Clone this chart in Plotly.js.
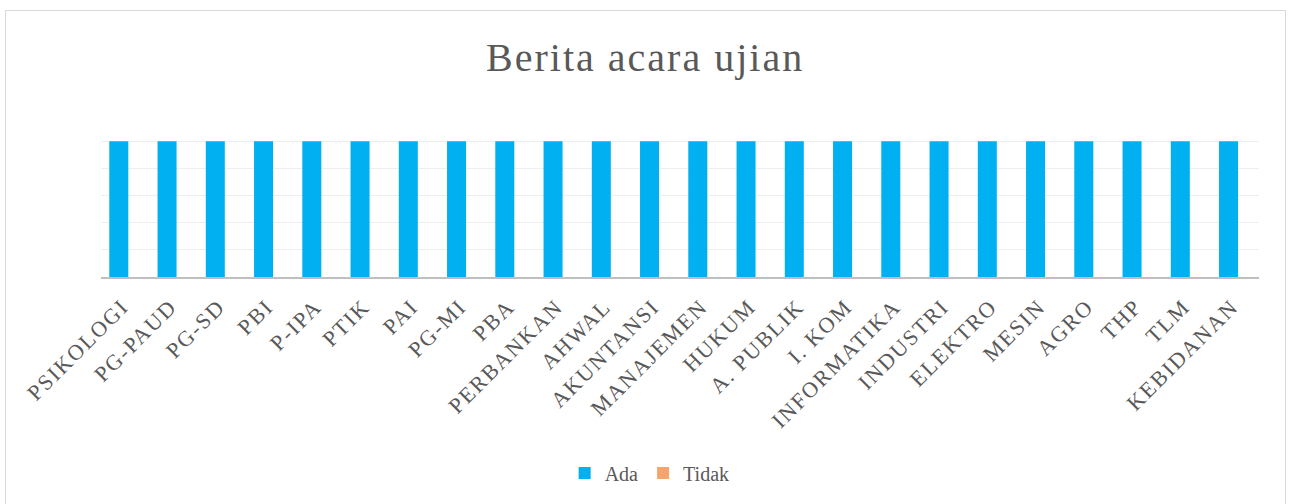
<!DOCTYPE html>
<html>
<head>
<meta charset="utf-8">
<script src="https://cdn.plot.ly/plotly-3.0.1.min.js"></script>
<style>
  html, body { margin: 0; padding: 0; background: #ffffff; }
  #wrap { position: relative; width: 1289px; height: 504px; overflow: hidden; }
  #chart { position: absolute; left: 0; top: 0; width: 1289px; height: 504px; }
  #frame { position: absolute; left: 5px; top: 10px; width: 1281px; height: 500px;
           border: 1.5px solid #d9d9d9; box-sizing: border-box; pointer-events: none; }
  #chart .gtitle { letter-spacing: 2px; }
  #chart .xtick text { letter-spacing: 1.8px; }
</style>
</head>
<body>
<div id="wrap">
  <div id="chart"></div>
  <div id="frame"></div>
</div>
<script>
const categories = ["PSIKOLOGI", "PG-PAUD", "PG-SD", "PBI", "P-IPA", "PTIK", "PAI", "PG-MI", "PBA",
  "PERBANKAN", "AHWAL", "AKUNTANSI", "MANAJEMEN", "HUKUM", "A. PUBLIK", "I. KOM", "INFORMATIKA",
  "INDUSTRI", "ELEKTRO", "MESIN", "AGRO", "THP", "TLM", "KEBIDANAN"];
const adaValues = [1, 1, 1, 1, 1, 1, 1, 1, 1, 1, 1, 1, 1, 1, 1, 1, 1, 1, 1, 1, 1, 1, 1, 1];
const tidakValues = [0, 0, 0, 0, 0, 0, 0, 0, 0, 0, 0, 0, 0, 0, 0, 0, 0, 0, 0, 0, 0, 0, 0, 0];
const seriesNames = ["Ada", "Tidak"];

const serif = "Liberation Serif, Times New Roman, serif";
const textColor = "#595959";

const traces = [
  {
    type: "bar", name: seriesNames[0], x: categories, y: adaValues,
    marker: { color: "#00B0F0", line: { width: 0 } },
    width: 0.394, offset: -0.328, hoverinfo: "x+y+name"
  },
  {
    type: "bar", name: seriesNames[1], x: categories, y: tidakValues,
    marker: { color: "#F4A46C", line: { width: 0 } },
    width: 0.394, offset: 0.066, hoverinfo: "x+y+name"
  }
];

const layout = {
  width: 1289, height: 504,
  margin: { l: 101, r: 30, t: 114, b: 227, pad: 0 },
  paper_bgcolor: "#ffffff", plot_bgcolor: "#ffffff",
  font: { family: serif, color: textColor },
  barmode: "group",
  title: {
    text: "Berita acara ujian",
    font: { family: serif, size: 40, color: textColor },
    x: 0.5005, xanchor: "center", xref: "container",
    y: 1 - 57 / 504, yref: "container", yanchor: "middle"
  },
  xaxis: {
    type: "category",
    range: [-0.5, 23.5],
    showline: true, linecolor: "#bfbfbf", linewidth: 2,
    showgrid: false, zeroline: false,
    ticks: "", tickangle: -45,
    ticklabelstandoff: 6,
    ticklabelshift: -3,
    tickfont: { family: serif, size: 22, color: textColor },
    automargin: false
  },
  yaxis: {
    range: [0, 1.2], dtick: 0.2, tick0: 0,
    showticklabels: false, ticks: "",
    showgrid: true, gridcolor: "#eeeeee", gridwidth: 1,
    zeroline: false, showline: false,
    automargin: false
  },
  showlegend: true,
  legend: {
    orientation: "h", x: 0.504, xanchor: "center", xref: "container",
    y: 31 / 504, yref: "container", yanchor: "middle",
    font: { family: serif, size: 20, color: textColor },
    traceorder: "normal"
  }
};

Plotly.newPlot("chart", traces, layout, { displayModeBar: false, responsive: false });
</script>
</body>
</html>
